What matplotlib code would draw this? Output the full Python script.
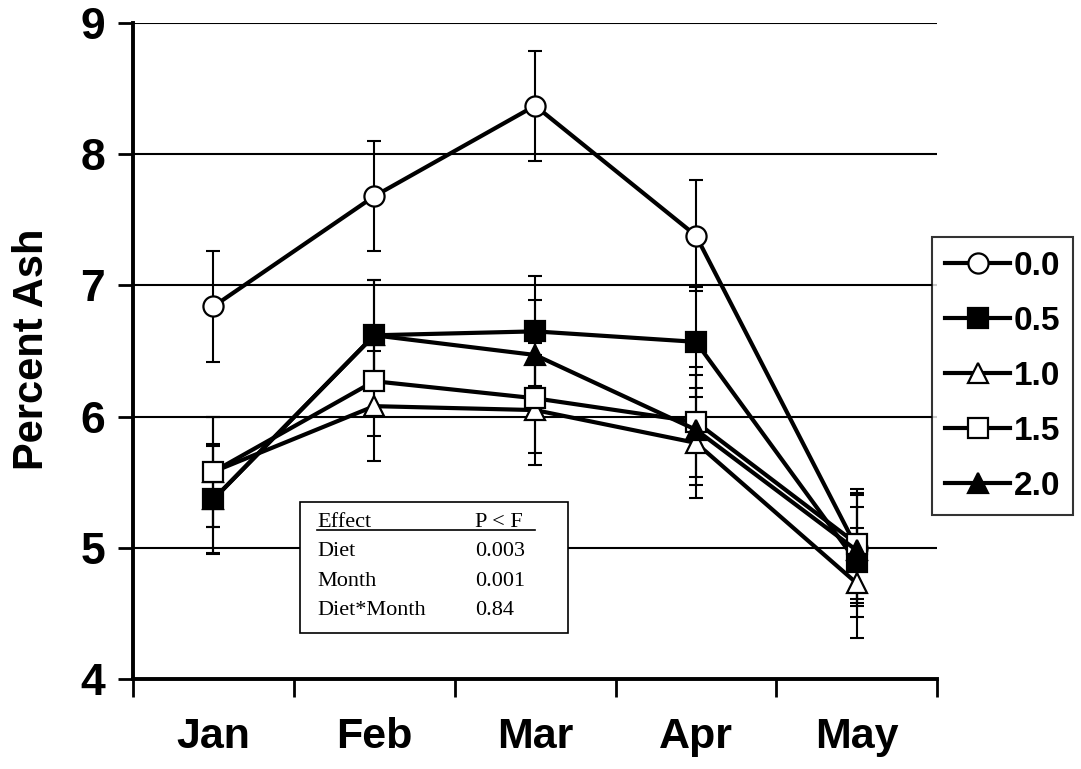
import matplotlib
matplotlib.use('Agg')
import matplotlib.pyplot as plt
from matplotlib.patches import Rectangle
from matplotlib.lines import Line2D
import numpy as np

months = ['Jan', 'Feb', 'Mar', 'Apr', 'May']

# percent ash by diet level, with standard errors
ash_00 = [6.84, 7.68, 8.37, 7.38, 5.00]
ash_05 = [5.37, 6.62, 6.65, 6.57, 4.89]
ash_10 = [5.58, 6.08, 6.05, 5.80, 4.73]
ash_15 = [5.58, 6.27, 6.14, 5.96, 5.03]
ash_20 = [5.37, 6.62, 6.47, 5.90, 4.98]

se_00 = [0.42, 0.42, 0.42, 0.42, 0.42]
se_05 = [0.41, 0.42, 0.42, 0.42, 0.42]
se_10 = [0.42, 0.42, 0.42, 0.42, 0.42]
se_15 = [0.42, 0.42, 0.42, 0.42, 0.42]
se_20 = [0.42, 0.42, 0.42, 0.42, 0.42]

labels = ['0.0', '0.5', '1.0', '1.5', '2.0']

effects = ['Effect', 'Diet', 'Month', 'Diet*Month']
p_values = ['P < F', '0.003', '0.001', '0.84']

plt.rcParams['font.family'] = ['Liberation Sans', 'DejaVu Sans']

series = [
    (ash_00, se_00, 'o', 'white'),
    (ash_05, se_05, 's', 'black'),
    (ash_10, se_10, '^', 'white'),
    (ash_15, se_15, 's', 'white'),
    (ash_20, se_20, '^', 'black'),
]

fig = plt.figure(figsize=(10.81, 7.69), dpi=100)
ax = fig.add_axes([0.123, 0.117, 0.744, 0.853])

x = np.arange(len(months))
handles = []
for i, (vals, err, mk, face) in enumerate(series):
    ax.errorbar(x, vals, yerr=err, fmt='none', ecolor='black',
                elinewidth=1.5, capsize=5, capthick=1.5, zorder=2)
    ln, = ax.plot(x, vals, color='black', lw=3, marker=mk, ms=14.5,
                  mfc=face, mec='black', mew=1.6, zorder=3 + i * 0.01,
                  clip_on=False)
    handles.append(ln)

ax.set_xlim(-0.5, 4.5)
ax.set_ylim(4, 9)
ax.set_yticks([4, 5, 6, 7, 8, 9])
ax.yaxis.grid(True, color='black', lw=1.5)
ax.set_axisbelow(True)

# category boundaries get ticks, names sit in the middle
ax.set_xticks(np.arange(-0.5, 5, 1))
ax.set_xticklabels([])
ax.set_xticks(x, minor=True)
ax.set_xticklabels(months, minor=True, fontsize=31, fontweight='bold')
ax.tick_params(axis='x', which='major', direction='out', length=13, width=2)
ax.tick_params(axis='x', which='minor', length=0, pad=27)
ax.tick_params(axis='y', direction='out', length=11, width=2, pad=9,
               labelsize=32)
for t in ax.get_yticklabels():
    t.set_fontweight('bold')

for s in ['top', 'right']:
    ax.spines[s].set_visible(False)
for s in ['left', 'bottom']:
    ax.spines[s].set_linewidth(2.8)

ax.set_ylabel('Percent Ash', fontsize=30, fontweight='bold')
ax.yaxis.set_label_coords(-0.101, 0.503)

leg = fig.legend(handles, labels, loc='center left',
                 bbox_to_anchor=(0.862, 0.511), borderaxespad=0,
                 prop={'weight': 'bold', 'size': 24}, frameon=True,
                 fancybox=False, edgecolor='black', handlelength=1.95,
                 handletextpad=0.1, labelspacing=0.72, borderpad=0.4)
leg.get_frame().set_linewidth(1.5)

# statistics table
fig.patches.append(Rectangle((300 / 1081, 1 - 633 / 769), 268 / 1081, 131 / 769,
                             transform=fig.transFigure, fill=True, fc='white',
                             ec='black', lw=1.2, zorder=5))
row_y = [527, 556, 586, 615]
for eff, p, yy in zip(effects, p_values, row_y):
    fig.text(317 / 1081, 1 - yy / 769, eff, family='Liberation Serif',
             fontsize=16, va='baseline', zorder=6)
    fig.text(475 / 1081, 1 - yy / 769, p, family='Liberation Serif',
             fontsize=16, va='baseline', zorder=6)
fig.lines.append(Line2D([317 / 1081, 535 / 1081], [1 - 530 / 769, 1 - 530 / 769],
                        transform=fig.transFigure, color='black', lw=1.2,
                        zorder=6))

fig.savefig('out.png', dpi=100)
